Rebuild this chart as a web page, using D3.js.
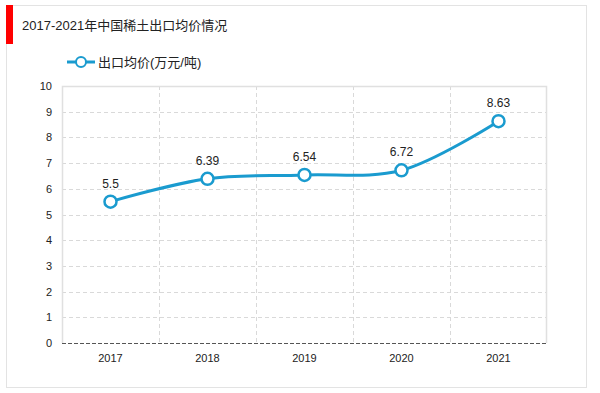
<!DOCTYPE html>
<html>
<head>
<meta charset="utf-8">
<script src="https://cdn.jsdelivr.net/npm/d3@7"></script>
<style>
  body { margin: 0; background: #fff; }
  text { font-family: "Liberation Sans", Arial, "Noto Sans CJK SC", sans-serif; fill: #222; }
</style>
</head>
<body>
<div id="chart"></div>
<script>
// data
const years = ["2017", "2018", "2019", "2020", "2021"];
const prices = [5.5, 6.39, 6.54, 6.72, 8.63];
const yTicks = [0, 1, 2, 3, 4, 5, 6, 7, 8, 9, 10];
const title = "2017-2021年中国稀土出口均价情况";
const seriesName = "出口均价(万元/吨)";

const W = 600, H = 393;
const margin = {top: 86, right: 53, bottom: 50, left: 62};
const width = W - margin.left - margin.right,
    height = 343 - margin.top;
const blue = "#1a9bcf";

let svg = d3.select("#chart").append("svg")
    .attr("width", W)
    .attr("height", H);

// outer frame
svg.append("rect")
    .attr("x", 6.5).attr("y", 5.5)
    .attr("width", 580).attr("height", 382)
    .attr("fill", "none")
    .attr("stroke", "#e3e3e3");

// red title marker
svg.append("rect")
    .attr("x", 6).attr("y", 5)
    .attr("width", 7).attr("height", 39)
    .attr("fill", "#ff0000");

svg.append("text")
    .attr("x", 22).attr("y", 30)
    .style("font-size", "13px")
    .text(title);

// legend
let legend = svg.append("g").attr("transform", "translate(67,62)");
legend.append("line")
    .attr("x1", 0).attr("x2", 28)
    .attr("stroke", blue).attr("stroke-width", 3);
legend.append("circle")
    .attr("cx", 14).attr("r", 5)
    .attr("fill", "#fff").attr("stroke", blue).attr("stroke-width", 2);
legend.append("text")
    .attr("x", 31).attr("y", 5)
    .style("font-size", "13px")
    .text(seriesName);

let g = svg.append("g")
    .attr("transform", "translate(" + margin.left + "," + margin.top + ")");

let x = d3.scaleBand()
    .domain(years)
    .range([0, width]);

let y = d3.scaleLinear()
    .domain([0, 10])
    .range([height, 0]);

// horizontal grid
g.selectAll(".hgrid")
    .data(yTicks.filter(d => d > 0 && d < 10))
    .enter()
    .append("line")
    .attr("x1", 0).attr("x2", width)
    .attr("y1", d => Math.round(y(d)) + 0.5)
    .attr("y2", d => Math.round(y(d)) + 0.5)
    .attr("stroke", "#d9d9d9")
    .attr("stroke-dasharray", "4,3");

// vertical grid at band boundaries
g.selectAll(".vgrid")
    .data(years.slice(1))
    .enter()
    .append("line")
    .attr("x1", d => Math.round(x(d)) + 0.5)
    .attr("x2", d => Math.round(x(d)) + 0.5)
    .attr("y1", 0).attr("y2", height)
    .attr("stroke", "#d9d9d9")
    .attr("stroke-dasharray", "4,3");

// plot frame (left, top, right)
g.append("path")
    .attr("d", "M0.5," + height + "V0.5H" + (width - 0.5) + "V" + height)
    .attr("fill", "none")
    .attr("stroke", "#e0e0e0")
    .attr("stroke-width", 1.5);

// baseline
g.append("line")
    .attr("x1", 0).attr("x2", width)
    .attr("y1", height + 0.5).attr("y2", height + 0.5)
    .attr("stroke", "#555")
    .attr("stroke-dasharray", "4,2");

// y tick labels
g.selectAll(".ylab")
    .data(yTicks)
    .enter()
    .append("text")
    .attr("x", -10)
    .attr("y", d => y(d) + 4)
    .attr("text-anchor", "end")
    .style("font-size", "11px")
    .text(d => d);

// x tick labels
g.selectAll(".xlab")
    .data(years)
    .enter()
    .append("text")
    .attr("x", d => x(d) + x.bandwidth() / 2)
    .attr("y", height + 19)
    .attr("text-anchor", "middle")
    .style("font-size", "11px")
    .text(d => d);

let pts = years.map((d, i) => ({year: d, value: prices[i]}));

let line = d3.line()
    .x(d => x(d.year) + x.bandwidth() / 2)
    .y(d => y(d.value))
    .curve(d3.curveCatmullRom.alpha(0.5));

g.append("path")
    .datum(pts)
    .attr("d", line)
    .attr("fill", "none")
    .attr("stroke", blue)
    .attr("stroke-width", 3);

g.selectAll(".pt")
    .data(pts)
    .enter()
    .append("circle")
    .attr("cx", d => x(d.year) + x.bandwidth() / 2)
    .attr("cy", d => y(d.value))
    .attr("r", 6)
    .attr("fill", "#fff")
    .attr("stroke", blue)
    .attr("stroke-width", 2.5);

g.selectAll(".vlab")
    .data(pts)
    .enter()
    .append("text")
    .attr("x", d => x(d.year) + x.bandwidth() / 2)
    .attr("y", d => y(d.value) - 14)
    .attr("text-anchor", "middle")
    .style("font-size", "12px")
    .text(d => d.value);
</script>
</body>
</html>
